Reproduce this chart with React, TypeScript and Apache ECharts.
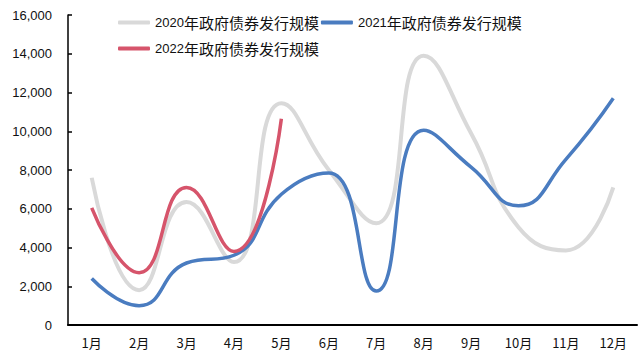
import React, { useEffect, useRef } from "react";
import * as echarts from "echarts";

const months = ["1月", "2月", "3月", "4月", "5月", "6月", "7月", "8月", "9月", "10月", "11月", "12月"];
const seriesNames = ["2020年政府债券发行规模", "2021年政府债券发行规模", "2022年政府债券发行规模"];
const data2020 = [7600, 1800, 6350, 3250, 11450, 8000, 5250, 13900, 9900, 5050, 3850, 7100];
const data2021 = [2400, 1000, 3200, 3600, 6750, 7850, 1750, 10050, 8150, 6150, 8550, 11700];
const data2022 = [6050, 2700, 7100, 3800, 10650];
const yTicks = { min: 0, max: 16000, interval: 2000 };

const colors = ["#d9d9d9", "#4a7cc0", "#d6546b"];

export default function App() {
  const ref = useRef<HTMLDivElement>(null);
  useEffect(() => {
    if (!ref.current) return;
    const chart = echarts.init(ref.current, null, { renderer: "svg" });
    const legendText = {
      color: "#111",
      rich: {
        a: { fontSize: 13, fontFamily: "Liberation Sans", color: "#111" },
        b: { fontSize: 15, fontFamily: "Noto Sans CJK SC", color: "#111" },
      },
    };
    const fmt = (name: string) => `{a|${name.slice(0, 4)}}{b|${name.slice(4)}}`;
    const mk = (i: number, data: number[], width: number) => ({
      name: seriesNames[i],
      type: "line",
      data,
      smooth: 0.5,
      symbol: "none",
      lineStyle: { color: colors[i], width },
      itemStyle: { color: colors[i] },
      z: i === 0 ? 1 : 2 + i,
    });
    const legendBase = {
      left: 113,
      itemWidth: 32,
      itemHeight: 4,
      icon: "roundRect",
      itemGap: 2,
      formatter: fmt,
      textStyle: legendText,
    };
    chart.setOption({
      animation: false,
      grid: { left: 68, right: 3, top: 15, bottom: 38 },
      legend: [
        { ...legendBase, data: [seriesNames[0], seriesNames[1]], top: 10 },
        { ...legendBase, data: [seriesNames[2]], top: 36 },
      ],
      xAxis: {
        type: "category",
        data: months,
        boundaryGap: true,
        axisLine: { lineStyle: { color: "#000", width: 2 } },
        axisTick: { show: false },
        axisLabel: { color: "#111", fontSize: 13, margin: 11, fontFamily: "Noto Sans CJK SC", interval: 0 },
      },
      yAxis: {
        type: "value",
        min: yTicks.min,
        max: yTicks.max,
        interval: yTicks.interval,
        axisLine: { show: true, lineStyle: { color: "#000", width: 1.5 } },
        axisTick: { show: true, inside: true, length: 4, lineStyle: { color: "#000", width: 1.5 } },
        splitLine: { show: false },
        axisLabel: {
          color: "#111",
          fontSize: 13,
          margin: 16,
          fontFamily: "Liberation Sans",
          formatter: (v: number) => (v === 0 ? "0" : v.toLocaleString("en-US")),
        },
      },
      series: [mk(0, data2020, 4), mk(1, data2021, 3.5), mk(2, data2022, 3.5)],
    });
    return () => chart.dispose();
  }, []);
  return <div ref={ref} style={{ width: 640, height: 363, position: "absolute", left: 0, top: 0 }} />;
}
